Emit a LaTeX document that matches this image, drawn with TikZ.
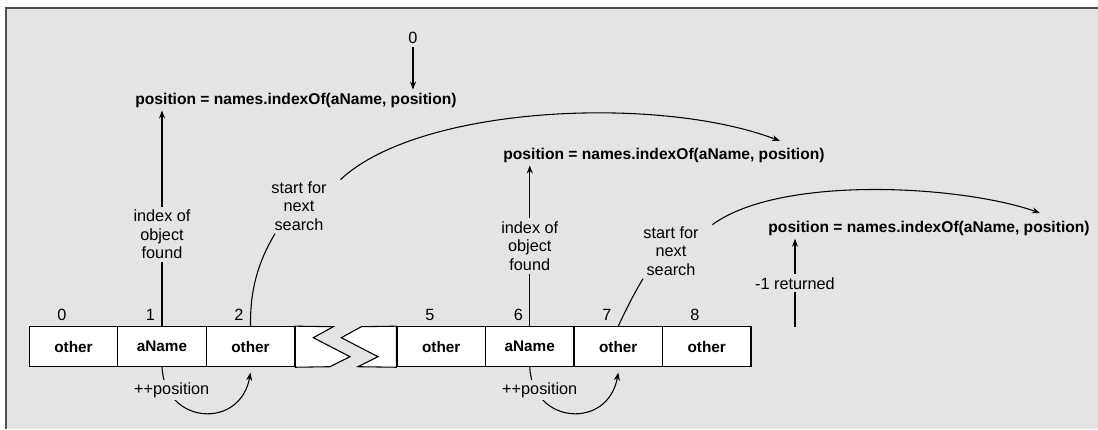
\documentclass[tikz,border=0pt]{standalone}
\usepackage{fontspec}
\setmainfont{Liberation Sans}
\usepackage{tikz}
\usetikzlibrary{arrows.meta}
\definecolor{panel}{RGB}{228,228,228}
\definecolor{rim}{RGB}{80,80,80}

\begin{document}
\begin{tikzpicture}[x=0.75pt,y=-0.75pt,line width=0.8pt,>={Stealth[length=6pt,width=4.5pt]},
cell/.style={draw,fill=white,minimum width=66.4pt,minimum height=30pt,inner sep=0pt,font=\fontsize{11.5}{13}\selectfont\bfseries},
stmt/.style={inner sep=2pt,font=\fontsize{11.7}{14}\selectfont\bfseries},
note/.style={inner sep=2pt,align=center,font=\fontsize{12.2}{13.9}\selectfont},
num/.style={inner sep=2pt,font=\fontsize{12.2}{13.9}\selectfont}]
\useasboundingbox(0,0)rectangle(1098,429);
\fill[panel](6,7.5)rectangle(1098,429);
\draw[rim,line width=1.5pt](6,429)--(6,7.5)--(1098,7.5);
\node[cell](c0)at(73.5,346.7){other};
\node[cell](c1)at(162,346.7){aName};
\node[cell](c2)at(250.5,346.7){other};
\node[cell](c5)at(441.25,346.7){other};
\node[cell](c6)at(529.75,346.7){aName};
\node[cell](c7)at(618.25,346.7){other};
\node[cell](c8)at(706.75,346.7){other};
\draw[fill=white](c2.north east)--(333.3,326.7)--(313.3,337.7)--(350,356.7)--(330,366.7)--(c2.south east)--cycle;
\draw[fill=white](c5.north west)--(361.3,326.7)--(341.3,337.7)--(378,356.7)--(358,366.7)--(c5.south west)--cycle;
\node[num](n0)at(62,315){0};
\node[num](n1)at(150.5,315){1};
\node[num](n2)at(239,315){2};
\node[num](n5)at(430,315){5};
\node[num](n6)at(518.5,315){6};
\node[num](n7)at(607,315){7};
\node[num](n8)at(695,315){8};
\node[stmt](st1)at(296,100){position = names.indexOf(aName, position)};
\node[stmt](st2)at(664,155){position = names.indexOf(aName, position)};
\node[stmt](st3)at(929,228.3){position = names.indexOf(aName, position)};
\node[num](zero)at(413,38){0};
\draw[->](zero)--(zero|-st1.north);
\node[note](idx1)at(162,234.5){index of\\object\\found};
\node[note](sf1)at(299,206){start for\\next\\search};
\node[note](idx2)at(529.75,246){index of\\object\\found};
\node[note](sf2)at(671,251){start for\\next\\search};
\node[num](ret)at(795,283.3){-1 returned};
\coordinate(retend)at(795,326.7);
\coordinate(tip1)at(780,141);
\coordinate(tip2)at(1040,213);
\draw[->](idx1)--(idx1|-st1.south);
\draw(idx1)--(c1);
\draw[->](idx2)--(idx2|-st2.south);
\draw(idx2)--(c6);
\draw[->](ret)--(ret|-st3.south);
\draw(ret)--(retend);
\draw([xshift=-18pt]sf1.south)..controls(258,262)and(250,290)..(c2.north);
\draw([xshift=-21pt]sf2.south)..controls(632,297)and(625,312)..(c7.north);
\draw[->]([xshift=8pt,yshift=-1pt]sf1.north east)..controls(420,105)and(660,95)..(tip1);
\draw[->]([xshift=8pt,yshift=-1pt]sf2.north east)..controls(780,175)and(960,185)..(tip2);
\draw[->](c1.south)..controls+(3,58)and+(-10,57)..([yshift=-4pt]c2.south);
\draw[->](c6.south)..controls+(3,58)and+(-10,57)..([yshift=-4pt]c7.south);
\node[num,fill=panel](pp1)at(171.7,390){++position};
\node[num,fill=panel](pp2)at(539.7,390){++position};
\end{tikzpicture}
\end{document}
